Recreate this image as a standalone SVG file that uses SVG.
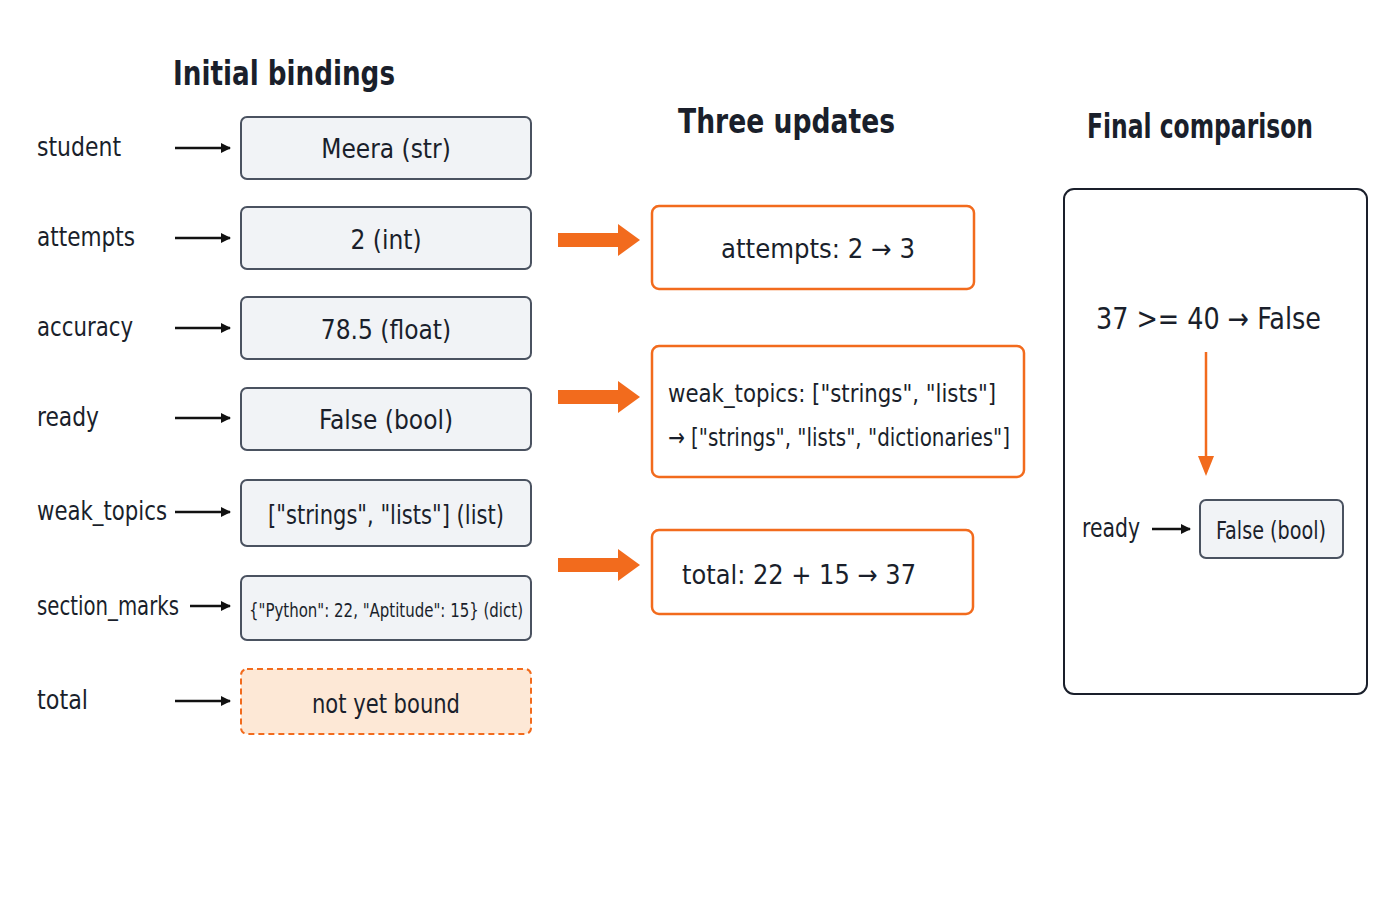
<svg xmlns="http://www.w3.org/2000/svg" width="1400" height="900" viewBox="0 0 1400 900">
<defs>
<style>
text{font-family:"DejaVu Sans Condensed","DejaVu Sans","Liberation Sans",sans-serif;font-stretch:condensed;fill:#1a1f2b}
.t{font-size:33px;font-weight:600}
.lab{font-size:27px;font-weight:500}
.v{font-size:26px;font-weight:500;text-anchor:middle}
.box{fill:#f1f3f6;stroke:#4a5260;stroke-width:2}
.ob{fill:#fff;stroke:#f26b1d;stroke-width:2.5}
.ln{stroke:#111;stroke-width:2.5;fill:none}
.oa{fill:#f26b1d}
</style>
<marker id="ah" markerWidth="10" markerHeight="10" refX="9" refY="5" orient="auto" markerUnits="userSpaceOnUse"><path d="M0,0 L10,5 L0,10 z" fill="#111"/></marker>
</defs>
<rect width="1400" height="900" fill="#fff"/>
<text class="t" x="173" y="85" textLength="222" lengthAdjust="spacingAndGlyphs">Initial bindings</text>
<text class="t" x="678" y="133" textLength="217" lengthAdjust="spacingAndGlyphs">Three updates</text>
<text class="t" x="1087" y="138" textLength="226" lengthAdjust="spacingAndGlyphs">Final comparison</text>

<g id="student"><text class="lab" x="37" y="156" textLength="84" lengthAdjust="spacingAndGlyphs">student</text><rect class="box" x="241" y="117" width="290" height="62" rx="6"/><text class="v" x="386" y="158">Meera (str)</text></g>
<g id="attempts"><text class="lab" x="37" y="246" textLength="98" lengthAdjust="spacingAndGlyphs">attempts</text><rect class="box" x="241" y="207" width="290" height="62" rx="6"/><text class="v" x="386" y="249">2 (int)</text></g>
<g id="accuracy"><text class="lab" x="37" y="336" textLength="96" lengthAdjust="spacingAndGlyphs">accuracy</text><rect class="box" x="241" y="297" width="290" height="62" rx="6"/><text class="v" x="386" y="339">78.5 (float)</text></g>
<g id="ready"><text class="lab" x="37" y="426" textLength="62" lengthAdjust="spacingAndGlyphs">ready</text><rect class="box" x="241" y="388" width="290" height="62" rx="6"/><text class="v" x="386" y="429">False (bool)</text></g>
<g id="weak_topics"><text class="lab" x="37" y="520" textLength="130" lengthAdjust="spacingAndGlyphs">weak_topics</text><rect class="box" x="241" y="480" width="290" height="66" rx="6"/><text class="v" x="386" y="524" textLength="236" lengthAdjust="spacingAndGlyphs">["strings", "lists"] (list)</text></g>
<g id="section_marks"><text class="lab" x="37" y="615" textLength="142" lengthAdjust="spacingAndGlyphs">section_marks</text><rect class="box" x="241" y="576" width="290" height="64" rx="6"/><text class="v" x="386" y="617" style="font-size:20px" textLength="274" lengthAdjust="spacingAndGlyphs">{"Python": 22, "Aptitude": 15} (dict)</text></g>
<g id="total"><text class="lab" x="37" y="709" textLength="51" lengthAdjust="spacingAndGlyphs">total</text><rect x="241" y="669" width="290" height="65" rx="6" fill="#fde8d6" stroke="#f26b1d" stroke-width="2" stroke-dasharray="6 4"/><text class="v" x="386" y="713" textLength="148" lengthAdjust="spacingAndGlyphs">not yet bound</text></g>

<g id="u1"><rect class="ob" x="652" y="206" width="322" height="83" rx="7"/><text class="v" x="818" y="258" textLength="194" lengthAdjust="spacingAndGlyphs">attempts:  2 → 3</text></g>
<g id="u2"><rect class="ob" x="652" y="346" width="372" height="131" rx="7"/><text class="lab" x="668" y="402" style="font-size:25px" textLength="328" lengthAdjust="spacingAndGlyphs">weak_topics: ["strings",  "lists"]</text><text class="lab" x="668" y="446" style="font-size:25px" textLength="342" lengthAdjust="spacingAndGlyphs">→ ["strings",  "lists", "dictionaries"]</text></g>
<g id="u3"><rect class="ob" x="652" y="530" width="321" height="84" rx="7"/><text class="lab" x="682" y="584" textLength="234" lengthAdjust="spacingAndGlyphs">total:  22 + 15 → 37</text></g>

<g id="final"><rect x="1064" y="189" width="303" height="505" rx="10" fill="#fff" stroke="#1a1f2b" stroke-width="2"/><text class="lab" x="1096" y="329" style="font-size:30px" textLength="225" lengthAdjust="spacingAndGlyphs">37 &gt;= 40 → False</text><text class="lab" x="1082" y="537" textLength="58" lengthAdjust="spacingAndGlyphs">ready</text><rect class="box" x="1200" y="500" width="143" height="58" rx="6"/><text class="v" x="1271" y="539" style="font-size:24px" textLength="110" lengthAdjust="spacingAndGlyphs">False (bool)</text></g>

<g id="connectors">
<line class="ln" x1="175" y1="148" x2="230" y2="148" marker-end="url(#ah)"/>
<line class="ln" x1="175" y1="238" x2="230" y2="238" marker-end="url(#ah)"/>
<line class="ln" x1="175" y1="328" x2="230" y2="328" marker-end="url(#ah)"/>
<line class="ln" x1="175" y1="418" x2="230" y2="418" marker-end="url(#ah)"/>
<line class="ln" x1="175" y1="512" x2="230" y2="512" marker-end="url(#ah)"/>
<line class="ln" x1="190" y1="606" x2="230" y2="606" marker-end="url(#ah)"/>
<line class="ln" x1="175" y1="701" x2="230" y2="701" marker-end="url(#ah)"/>
<path class="oa" d="M558,233 L618,233 L618,224 L640,240 L618,256 L618,247 L558,247 z"/>
<path class="oa" d="M558,390 L618,390 L618,381 L640,397 L618,413 L618,404 L558,404 z"/>
<path class="oa" d="M558,558 L618,558 L618,549 L640,565 L618,581 L618,572 L558,572 z"/>
<line x1="1206" y1="352" x2="1206" y2="460" stroke="#f26b1d" stroke-width="2.5"/>
<path class="oa" d="M1198,456 L1214,456 L1206,476 z"/>
<line class="ln" x1="1152" y1="529" x2="1190" y2="529" marker-end="url(#ah)"/>
</g>
</svg>
